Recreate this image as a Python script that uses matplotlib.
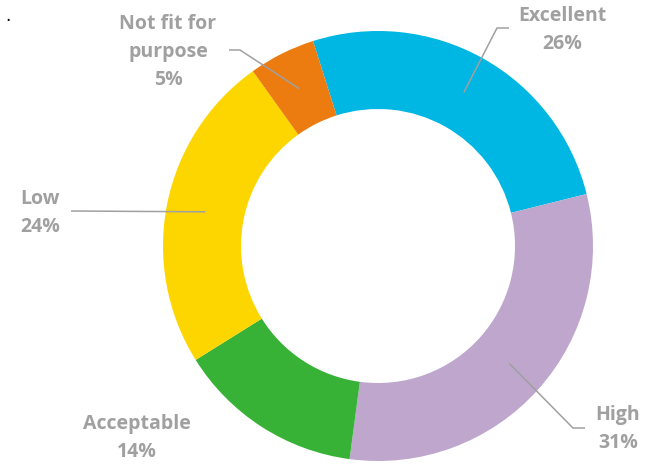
import numpy as np
import matplotlib.pyplot as plt

labels = ['Excellent', 'High', 'Acceptable', 'Low', 'Not fit for\npurpose']
values = [26, 31, 14, 24, 5]
colors = ['#00B6E2', '#BEA6CC', '#37B236', '#FDD600', '#EC7B10']

# label text positions (pixels from top-left) and leader elbow points
label_pos = [(562, 30), (618, 429), (137, 438), (40, 213), (168, 52)]
elbows = [[(509, 28), (497, 28)], [(585, 428), (573, 428)], None,
          [(71, 211)], [(229, 50), (240, 50)]]

W, H = 648, 465
cx, cy, r_out, r_in = 378, H - 246, 215, 137

fig = plt.figure(figsize=(6.48, 4.65), dpi=100)
ax = fig.add_axes([0, 0, 1, 1])

wedges, _ = ax.pie(values, colors=colors, startangle=107.6, counterclock=False,
                   center=(cx, cy), radius=r_out,
                   wedgeprops=dict(width=r_out - r_in, linewidth=0))
ax.set_xlim(0, W)
ax.set_ylim(0, H)
ax.set_aspect('equal')
ax.axis('off')

gray = '#A0A0A0'
for w, lab, val, (tx, ty), elb in zip(wedges, labels, values, label_pos, elbows):
    text = f'{lab}\n{val}%'
    ax.text(tx, H - ty, text, ha='center', va='center', fontsize=14,
            fontweight='bold', color=gray, family='Open Sans', linespacing=1.55)
    if elb is None:
        continue
    mid = np.deg2rad((w.theta1 + w.theta2) / 2)
    rm = (r_out + r_in) / 2
    px, py = cx + rm * np.cos(mid), cy + rm * np.sin(mid)
    xs = [p[0] for p in elb] + [px]
    ys = [H - p[1] for p in elb] + [py]
    ax.plot(xs, ys, color=gray, lw=1.1, solid_capstyle='butt')

fig.text(0.008, 0.985, '.', fontsize=12, color='black', va='top')

fig.savefig('out.png', dpi=100)
